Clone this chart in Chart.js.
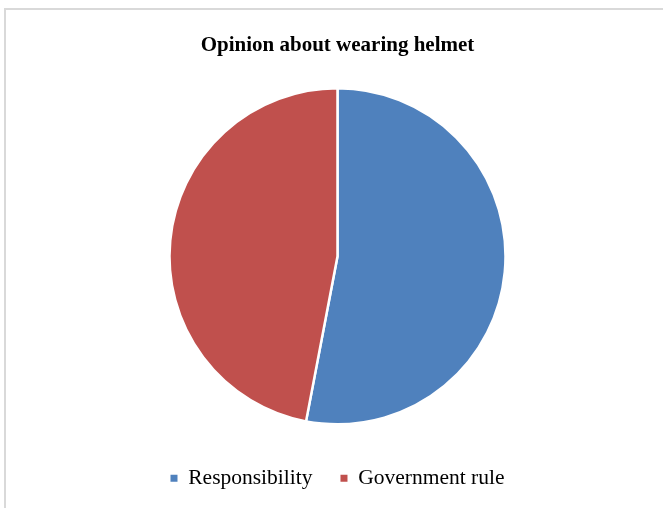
<!DOCTYPE html>
<html>
<head>
<meta charset="utf-8">
<script src="https://cdn.jsdelivr.net/npm/chart.js@4"></script>
<style>
  html, body { margin: 0; padding: 0; background: #ffffff; }
  body { width: 663px; height: 508px; position: relative; overflow: hidden; }
  #frame {
    position: absolute; left: 4px; top: 8px; width: 700px; height: 600px;
    border-left: 2px solid #d9d9d9; border-top: 2px solid #d9d9d9;
  }
  #wrap { position: absolute; left: 12px; top: 0; width: 651px; height: 508px; }
</style>
</head>
<body>
<div id="frame"></div>
<div id="wrap"><canvas id="chart"></canvas></div>
<script>
const chartTitle = 'Opinion about wearing helmet';
const categories = ['Responsibility', 'Government rule'];
const shares = [53, 47];
const sliceColors = ['#4F81BD', '#C0504D'];

const serif = '"Liberation Serif", "Times New Roman", serif';

new Chart(document.getElementById('chart'), {
  type: 'pie',
  data: {
    labels: categories,
    datasets: [{
      data: shares,
      backgroundColor: sliceColors,
      borderColor: '#ffffff',
      borderWidth: 2.5,
      radius: 168
    }]
  },
  options: {
    responsive: true,
    maintainAspectRatio: false,
    animation: false,
    layout: { padding: { top: 0, bottom: 9, left: 0, right: 0 } },
    plugins: {
      title: {
        display: true,
        text: chartTitle,
        color: '#000000',
        font: { family: serif, size: 21, weight: 'bold' },
        padding: { top: 33, bottom: 15 }
      },
      legend: {
        position: 'bottom',
        labels: {
          color: '#000000',
          font: { family: serif, size: 21.5 },
          boxWidth: 7,
          boxHeight: 7,
          padding: 28,
          generateLabels(chart) {
            const items = Chart.overrides.pie.plugins.legend.labels.generateLabels(chart);
            items.forEach(it => { it.lineWidth = 0; it.strokeStyle = it.fillStyle; });
            return items;
          }
        }
      },
      tooltip: { enabled: false }
    }
  }
});
</script>
</body>
</html>
